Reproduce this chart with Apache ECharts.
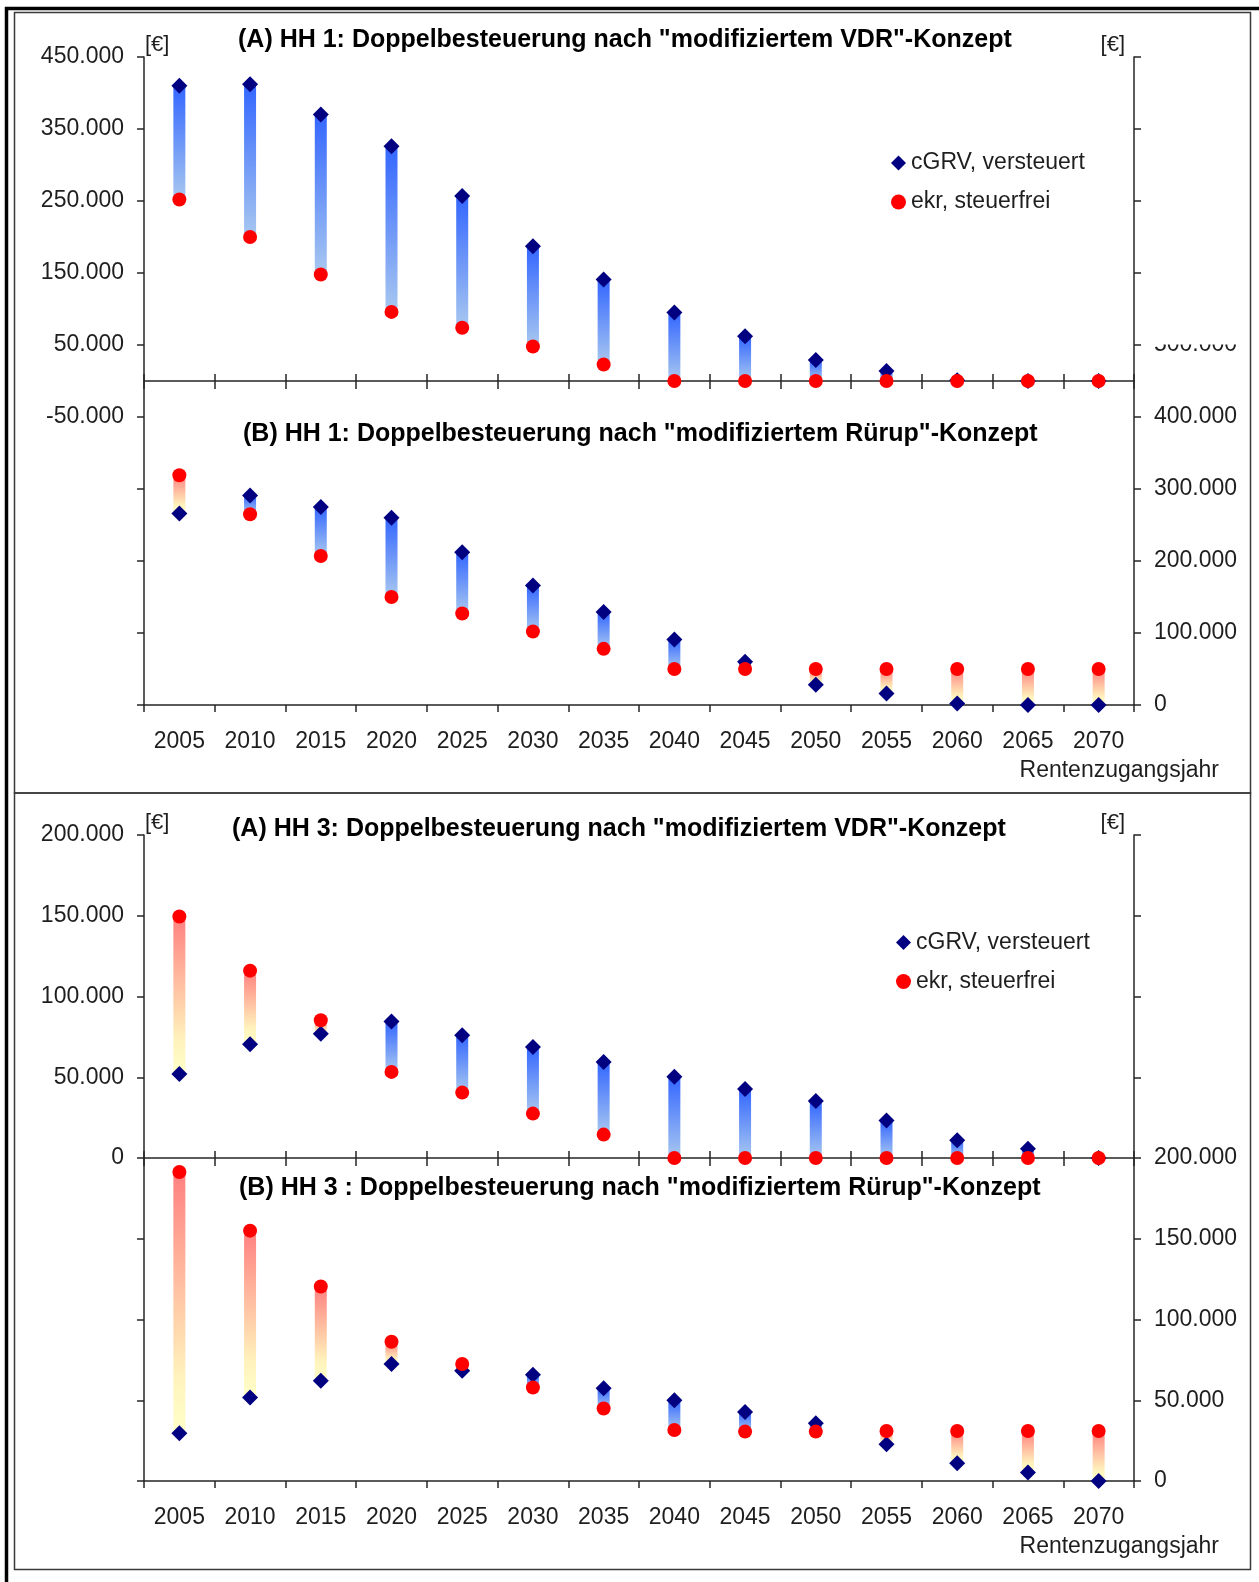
<!DOCTYPE html>
<html>
<head>
<meta charset="utf-8">
<title>Doppelbesteuerung HH 1 / HH 3</title>
<script src="https://cdn.jsdelivr.net/npm/echarts@6/dist/echarts.min.js"></script>
<style>
  html, body { margin: 0; padding: 0; background: #ffffff; }
  #chart { width: 1259px; height: 1582px; }
</style>
</head>
<body>
<div id="chart"></div>
<script>
// ---- data -------------------------------------------------------------
const years = ['2005', '2010', '2015', '2020', '2025', '2030', '2035',
               '2040', '2045', '2050', '2055', '2060', '2065', '2070'];

// HH 1, (A) "modifiziertes VDR"-Konzept (left axis)
const hh1VdrCgrv = [410000, 412000, 370000, 326000, 257000, 187000, 141000, 95000, 62000, 29000, 14000, 1000, 0, 0];
const hh1VdrEkr  = [252000, 200000, 148000, 96000, 74000, 48000, 23000, 0, 0, 0, 0, 0, 0, 0];

// HH 1, (B) "modifiziertes Rürup"-Konzept (right axis)
const hh1RurupCgrv = [266000, 291000, 275000, 260000, 212000, 166000, 129000, 91000, 60000, 28000, 16000, 2000, 0, 0];
const hh1RurupEkr  = [319000, 265000, 207000, 150000, 127000, 102000, 78000, 50000, 50000, 50000, 50000, 50000, 50000, 50000];

// HH 3, (A) "modifiziertes VDR"-Konzept (left axis)
const hh3VdrCgrv = [52000, 70500, 77000, 84500, 76000, 68800, 59500, 50300, 42800, 35300, 23200, 11000, 5800, 0];
const hh3VdrEkr  = [149500, 116000, 85300, 53300, 40500, 27500, 14500, 0, 0, 0, 0, 0, 0, 0];

// HH 3, (B) "modifiziertes Rürup"-Konzept (right axis)
const hh3RurupCgrv = [29600, 51700, 62000, 72400, 68300, 65800, 57500, 50000, 42800, 35800, 22800, 11000, 5200, 0];
const hh3RurupEkr  = [191300, 155000, 120400, 86200, 72400, 57900, 44900, 31600, 30600, 30600, 31000, 31000, 31000, 31000];

// value axes: [min, max, step]
const hh1LeftScale  = [-450000, 450000, 100000];
const hh1RightScale = [0, 900000, 100000];
const hh3LeftScale  = [-200000, 200000, 50000];
const hh3RightScale = [0, 400000, 50000];

// range of tick values that carry a label: [lowest, highest]
const hh1LeftLabelled  = [-50000, 450000];
const hh1RightLabelled = [0, 500000];
const hh3LeftLabelled  = [0, 200000];
const hh3RightLabelled = [0, 200000];

const seriesNames = ['cGRV, versteuert', 'ekr, steuerfrei'];
const titles = [
  '(A) HH 1: Doppelbesteuerung nach "modifiziertem VDR"-Konzept',
  '(B) HH 1: Doppelbesteuerung nach "modifiziertem Rürup"-Konzept',
  '(A) HH 3: Doppelbesteuerung nach "modifiziertem VDR"-Konzept',
  '(B) HH 3 : Doppelbesteuerung nach "modifiziertem Rürup"-Konzept'
];
const unitLabel = '[€]';
const xAxisTitle = 'Rentenzugangsjahr';

// ---- styling / layout ---------------------------------------------------
const FONT = '"Liberation Sans", Arial, sans-serif';
const TEXT = '#1e1e1e';
const LINE = '#262626';
const NAVY = '#000080';
const RED = '#ff0000';
const BLUE_STOPS = [{ offset: 0, color: '#3366ff' }, { offset: 1, color: '#a8c8f0' }];
const WARM_STOPS = [{ offset: 0, color: '#ff8080' }, { offset: 0.78, color: '#fff2bc' }, { offset: 1, color: '#ffffc8' }];

const PLOT_LEFT = 144, PLOT_WIDTH = 990;
const panels = [
  { top: 57, height: 648, left: hh1LeftScale, right: hh1RightScale,
    leftLab: hh1LeftLabelled, rightLab: hh1RightLabelled,
    a: [hh1VdrCgrv, hh1VdrEkr], b: [hh1RurupCgrv, hh1RurupEkr],
    titleA: { x: 238, y: 40 }, titleB: { x: 243, y: 434 }, legend: { x: 891, y: 151.5 } },
  { top: 835, height: 646, left: hh3LeftScale, right: hh3RightScale,
    leftLab: hh3LeftLabelled, rightLab: hh3RightLabelled,
    a: [hh3VdrCgrv, hh3VdrEkr], b: [hh3RurupCgrv, hh3RurupEkr],
    titleA: { x: 232, y: 829 }, titleB: { x: 239, y: 1188 }, legend: { x: 896, y: 931 } }
];

const fmtDe = v => (v < 0 ? '-' : '') + String(Math.abs(v)).replace(/\B(?=(\d{3})+(?!\d))/g, '.');

const labelStyle = { color: TEXT, fontSize: 23, fontFamily: FONT };
const tickLine = { color: LINE, width: 1.5 };

// vertical bar between the two values of one year
function spanBar(params, api) {
  const i = api.value(0);
  const c = api.value(1);
  const e = api.value(2);
  const pc = api.coord([i, c]);
  const pe = api.coord([i, e]);
  const w = 12;
  const y0 = Math.min(pc[1], pe[1]);
  const y1 = Math.max(pc[1], pe[1]);
  if (y1 - y0 < 0.5) return null;
  return {
    type: 'rect',
    shape: { x: pc[0] - w / 2, y: y0, width: w, height: y1 - y0 },
    style: { fill: new echarts.graphic.LinearGradient(0, 0, 0, 1, c >= e ? BLUE_STOPS : WARM_STOPS) }
  };
}

const grid = [], xAxis = [], yAxis = [], series = [], title = [], legend = [];

panels.forEach((p, k) => {
  const gFull = grid.length;
  grid.push({ left: PLOT_LEFT, top: p.top, width: PLOT_WIDTH, height: p.height });
  // upper part of the plot, ending on the zero line of the left axis
  const upperH = p.height * p.left[1] / (p.left[1] - p.left[0]);
  const gUpper = grid.length;
  grid.push({ left: PLOT_LEFT, top: p.top, width: PLOT_WIDTH, height: upperH });

  // bottom category axis with year labels
  const xBottom = xAxis.length;
  xAxis.push({
    type: 'category', gridIndex: gFull, data: years, boundaryGap: true, position: 'bottom',
    axisLine: { show: true, onZero: false, lineStyle: tickLine },
    axisTick: { show: true, interval: 0, length: 7, lineStyle: tickLine },
    axisLabel: Object.assign({ show: true, margin: 25, interval: 0 }, labelStyle),
    name: xAxisTitle, nameLocation: 'end', nameGap: 85,
    nameTextStyle: Object.assign({ align: 'right', verticalAlign: 'top', padding: [54, 0, 0, 0] }, labelStyle),
    splitLine: { show: false }
  });
  // zero line with ticks crossing it
  xAxis.push({
    type: 'category', gridIndex: gUpper, data: years, boundaryGap: true, position: 'bottom',
    axisLine: { show: true, onZero: false, lineStyle: tickLine },
    axisTick: { show: true, interval: 0, length: 8, lineStyle: tickLine },
    axisLabel: { show: false }, splitLine: { show: false }
  });
  xAxis.push({
    type: 'category', gridIndex: gUpper, data: years, boundaryGap: true, position: 'bottom',
    axisLine: { show: false, onZero: false },
    axisTick: { show: true, interval: 0, inside: true, length: 7, lineStyle: tickLine },
    axisLabel: { show: false }, splitLine: { show: false }
  });

  const yLeft = yAxis.length;
  yAxis.push({
    type: 'value', gridIndex: gFull, position: 'left',
    min: p.left[0], max: p.left[1], interval: p.left[2],
    axisLine: { show: true, lineStyle: tickLine },
    axisTick: { show: true, length: 7, lineStyle: tickLine },
    axisLabel: Object.assign({
      margin: 20, showMinLabel: true, showMaxLabel: true,
      formatter: v => (v >= p.leftLab[0] && v <= p.leftLab[1]) ? fmtDe(v) : ''
    }, labelStyle),
    splitLine: { show: false },
    name: unitLabel, nameLocation: 'end', nameGap: 1.5,
    nameTextStyle: { color: TEXT, fontSize: 22, fontFamily: FONT, align: 'left', verticalAlign: 'bottom', padding: [0, 0, 0, 1] }
  });
  const yRight = yAxis.length;
  yAxis.push({
    type: 'value', gridIndex: gFull, position: 'right',
    min: p.right[0], max: p.right[1], interval: p.right[2],
    axisLine: { show: true, lineStyle: tickLine },
    axisTick: { show: true, length: 7, lineStyle: tickLine },
    axisLabel: Object.assign({
      margin: 20, showMinLabel: true, showMaxLabel: true,
      formatter: v => (v >= p.rightLab[0] && v <= p.rightLab[1]) ? fmtDe(v) : ''
    }, labelStyle),
    splitLine: { show: false },
    name: unitLabel, nameLocation: 'end', nameGap: 1.5,
    nameTextStyle: { color: TEXT, fontSize: 22, fontFamily: FONT, align: 'right', verticalAlign: 'bottom', padding: [0, 9, 0, 0] }
  });
  yAxis.push({ type: 'value', gridIndex: gUpper, min: 0, max: 1, show: false });

  // chart (A) on the left axis, chart (B) on the right axis
  [[p.a, yLeft], [p.b, yRight]].forEach(([vals, yIdx]) => {
    const [cgrv, ekr] = vals;
    series.push({
      type: 'custom', xAxisIndex: xBottom, yAxisIndex: yIdx, z: 2,
      renderItem: spanBar, encode: { x: 0, y: [1, 2] },
      data: years.map((y, i) => [i, cgrv[i], ekr[i]]), silent: true
    });
    series.push({
      name: seriesNames[0], type: 'scatter', xAxisIndex: xBottom, yAxisIndex: yIdx, z: 3,
      symbol: 'diamond', symbolSize: 16, itemStyle: { color: NAVY, opacity: 1 },
      data: cgrv, silent: true
    });
    series.push({
      name: seriesNames[1], type: 'scatter', xAxisIndex: xBottom, yAxisIndex: yIdx, z: 4,
      symbol: 'circle', symbolSize: 14, itemStyle: { color: RED, opacity: 1 },
      data: ekr, silent: true
    });
  });

  const titleStyle = { fontSize: 25, fontWeight: 'bold', color: '#000', fontFamily: FONT };
  title.push({ text: titles[2 * k], left: p.titleA.x, top: p.titleA.y - 12.5, padding: 0, textStyle: titleStyle });
  title.push({ text: titles[2 * k + 1], left: p.titleB.x, top: p.titleB.y - 12.5, padding: 0, textStyle: titleStyle });

  legend.push({
    left: p.legend.x, top: p.legend.y, orient: 'vertical', padding: 0, itemGap: 16,
    itemWidth: 15, itemHeight: 15, selectedMode: false,
    textStyle: { color: TEXT, fontSize: 23, fontFamily: FONT },
    data: [{ name: seriesNames[0], icon: 'diamond' }, { name: seriesNames[1], icon: 'circle' }]
  });
});

// frames around the two panels, and the white edge that cuts the 500.000 label
const graphic = [
  { type: 'line', shape: { x1: 5, y1: 8.5, x2: 1259, y2: 8.5 }, style: { stroke: '#000', lineWidth: 3.5 }, z: 10 },
  { type: 'line', shape: { x1: 6.5, y1: 7, x2: 6.5, y2: 1582 }, style: { stroke: '#000', lineWidth: 3.5 }, z: 10 },
  { type: 'rect', shape: { x: 14.5, y: 12.5, width: 1236, height: 780.5 }, style: { fill: null, stroke: '#3a3a3a', lineWidth: 1.5 }, z: 10 },
  { type: 'rect', shape: { x: 14.5, y: 793, width: 1236, height: 776.5 }, style: { fill: null, stroke: '#3a3a3a', lineWidth: 1.5 }, z: 10 },
  { type: 'rect', shape: { x: 1144, y: 328, width: 100, height: 16.5 }, style: { fill: '#ffffff' }, z: 100 }
];

const chart = echarts.init(document.getElementById('chart'), null, { renderer: 'canvas' });
chart.setOption({
  animation: false,
  backgroundColor: '#ffffff',
  textStyle: { fontFamily: FONT },
  title, legend, grid, xAxis, yAxis, series, graphic
});
</script>
</body>
</html>
